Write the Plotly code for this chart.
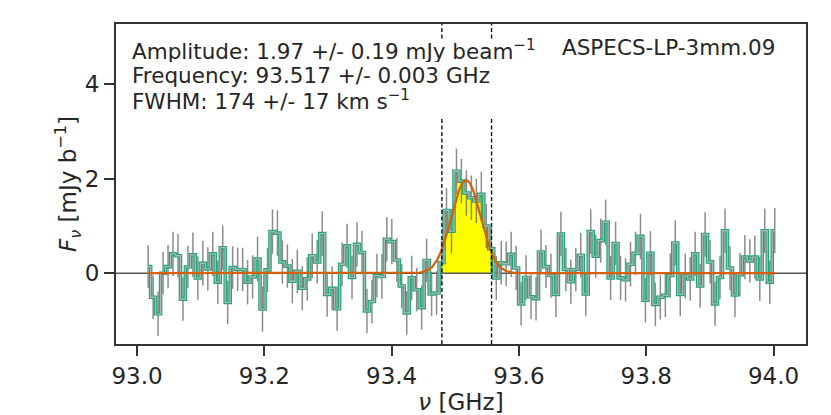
import numpy as np
import plotly.graph_objects as go

# channel grid (ASPECS 7.8125 MHz channels)
chan_start = 93.0175
chan_width = 0.0078125

flux = [
    0.14, -0.51, -0.86, 0.00, 0.14, 0.41, 0.37, -0.55, 0.13, 0.39,
    -0.10, 0.21, 0.09, 0.41, -0.19, 0.54, -0.62, 0.12, 0.08, 0.08,
    -0.19, -0.08, 0.30, -0.76, 0.07, 0.88, 0.85, 0.24, 0.15, -0.17,
    0.04, -0.32, -0.12, 0.37, 0.24, 0.84, -0.45, -0.32, -0.75, 0.19,
    0.58, -0.09, 0.61, 0.44, -0.80, -0.60, -0.05, -0.07, 0.72, 0.67,
    0.28, -0.27, -0.84, -0.10, -0.35, -0.73, 0.27, -0.44, -0.42, 0.22,
    1.33, 0.89, 2.16, 1.95, 1.70, 1.60, 1.53, 1.67, 1.00, 0.52,
    -0.10, 0.22, 0.20, 0.40, 0.11, -0.65, -0.09, -0.50, -0.54, 0.45,
    0.14, -0.05, -0.45, 0.83, 0.08, -0.18, 0.08, 0.38, -0.44, 0.88,
    0.36, 0.69, 1.08, -0.10, 0.63, -0.10, -0.14, 0.19, 0.42, 0.78,
    -0.57, 0.42, -0.66, -0.51, -0.47, -0.05, 0.64, -0.45, -0.06, -0.12,
    0.41, -0.27, 0.82, 0.24, -0.65, -0.09, 0.90, 0.11, -0.46, -0.03,
    0.34, 0.26, 0.34, -0.12, 0.90, -0.19, 0.90,
]

flux_err = [
    0.45, 0.46, 0.47, 0.45, 0.46, 0.47, 0.46, 0.46, 0.45, 0.47,
    0.46, 0.47, 0.46, 0.47, 0.46, 0.47, 0.46, 0.45, 0.46, 0.46,
    0.47, 0.46, 0.47, 0.48, 0.47, 0.47, 0.48, 0.46, 0.46, 0.47,
    0.46, 0.47, 0.46, 0.47, 0.46, 0.47, 0.47, 0.46, 0.47, 0.46,
    0.47, 0.46, 0.47, 0.46, 0.47, 0.46, 0.46, 0.47, 0.47, 0.48,
    0.46, 0.47, 0.46, 0.47, 0.46, 0.47, 0.46, 0.47, 0.46, 0.47,
    0.47, 0.47, 0.48, 0.47, 0.48, 0.47, 0.47, 0.48, 0.47, 0.46,
    0.47, 0.46, 0.47, 0.48, 0.47, 0.46, 0.47, 0.47, 0.46, 0.47,
    0.46, 0.47, 0.48, 0.47, 0.46, 0.47, 0.46, 0.47, 0.47, 0.47,
    0.46, 0.47, 0.48, 0.47, 0.46, 0.47, 0.46, 0.47, 0.46, 0.48,
    0.47, 0.47, 0.46, 0.47, 0.46, 0.47, 0.48, 0.46, 0.47, 0.46,
    0.47, 0.46, 0.47, 0.46, 0.47, 0.46, 0.47, 0.46, 0.47, 0.46,
    0.47, 0.46, 0.46, 0.47, 0.47, 0.46, 0.48,
]

# gaussian fit parameters
fit_amp = 1.97
fit_freq = 93.517
fit_fwhm_kms = 174.0

# integration window
line_lo = 93.479
line_hi = 93.557

source_name = "ASPECS-LP-3mm.09"
fit_text = [
    "Amplitude: 1.97 +/- 0.19 mJy beam<sup>\u22121</sup>",
    "Frequency: 93.517 +/- 0.003 GHz",
    "FWHM: 174 +/- 17 km s<sup>\u22121</sup>",
]

x_ticks = [93.0, 93.2, 93.4, 93.6, 93.8, 94.0]
y_ticks = [0, 2, 4]

freq = chan_start + chan_width * np.arange(len(flux))
flux = np.array(flux)

# model curve from the fit parameters
c_kms = 299792.458
sigma = fit_fwhm_kms / c_kms * fit_freq / (2 * np.sqrt(2 * np.log(2)))
model_x = np.linspace(freq[0], freq[-1], 600)
model_y = fit_amp * np.exp(-0.5 * ((model_x - fit_freq) / sigma) ** 2)

sel = (freq >= line_lo - chan_width / 2) & (freq <= line_hi + chan_width / 2)

font = "DejaVu Sans"
dark = "#262626"
green = "#22a67c"

fig = go.Figure()

fig.add_trace(go.Scatter(x=freq[sel], y=flux[sel], mode="lines", line_shape="hvh",
                         fill="tozeroy", fillcolor="#ffff00", line=dict(width=0)))

fig.add_trace(go.Scatter(x=[92.9, 94.1], y=[0, 0], mode="lines",
                         line=dict(color="#555555", width=1.6)))

fig.add_trace(go.Scatter(x=freq, y=flux, mode="markers", marker=dict(size=1, opacity=0),
                         error_y=dict(type="data", array=flux_err, width=0, thickness=1.5,
                                      color="rgba(120,120,120,0.85)")))

fig.add_trace(go.Scatter(x=freq, y=flux, mode="lines", line_shape="hvh",
                         line=dict(color=green, width=3.6)))
fig.add_trace(go.Scatter(x=freq, y=flux, mode="lines", line_shape="hvh",
                         line=dict(color="#b4b4b4", width=1.3)))

fig.add_trace(go.Scatter(x=model_x, y=model_y, mode="lines",
                         line=dict(color="#d95f02", width=2.2)))

for xv in [line_lo, line_hi]:
    fig.add_shape(type="line", x0=xv, x1=xv, y0=0, y1=1, xref="x", yref="paper",
                  line=dict(color="black", width=1.3, dash="4px,2.5px"), layer="above")

# white box behind the fit results (hides the dashed lines)
fig.add_shape(type="rect", xref="paper", yref="paper", x0=0.013, x1=0.622, y0=0.706, y1=0.95,
              fillcolor="white", line=dict(width=0), layer="above")

for i, txt in enumerate(fit_text):
    fig.add_annotation(xref="paper", yref="paper", x=0.02, y=0.919 - 0.0785 * i,
                       xanchor="left", yanchor="middle", text=txt, showarrow=False,
                       height=24, valign="middle",
                       font=dict(family=font, size=21.5, color=dark))

fig.add_annotation(xref="paper", yref="paper", x=0.958, y=0.925, xanchor="right", yanchor="middle",
                   text=source_name, showarrow=False,
                   font=dict(family=font, size=21.5, color=dark))

axis_common = dict(showline=True, mirror=True, linecolor="#333333", linewidth=2,
                   ticks="outside", ticklen=10, tickwidth=2, tickcolor="#333333",
                   showgrid=False, zeroline=False, automargin=False,
                   tickfont=dict(family=font, size=23, color=dark))

fig.update_xaxes(range=[92.967, 94.051], tickvals=x_ticks,
                 ticktext=["%.1f" % t for t in x_ticks],
                 title=dict(text="<i>\u03bd</i> [GHz]", standoff=1,
                            font=dict(family=font, size=23, color=dark)),
                 **axis_common)
fig.update_yaxes(range=[-1.5, 5.28], tickvals=y_ticks,
                 ticktext=[str(t) for t in y_ticks],
                 title=dict(text="<i>F</i><sub><i>\u03bd</i></sub> [mJy b<sup>\u22121</sup>]",
                            standoff=0, font=dict(family=font, size=23, color=dark)),
                 **axis_common)

fig.update_layout(width=831, height=415, showlegend=False,
                  margin=dict(l=116, r=25, t=24, b=71, autoexpand=False),
                  plot_bgcolor="white", paper_bgcolor="white")

# page body has a default margin; drop it so the figure sits at the window corner
fig.write_html("out.html", config={"displayModeBar": False},
               post_script="document.body.style.margin = '0';")
